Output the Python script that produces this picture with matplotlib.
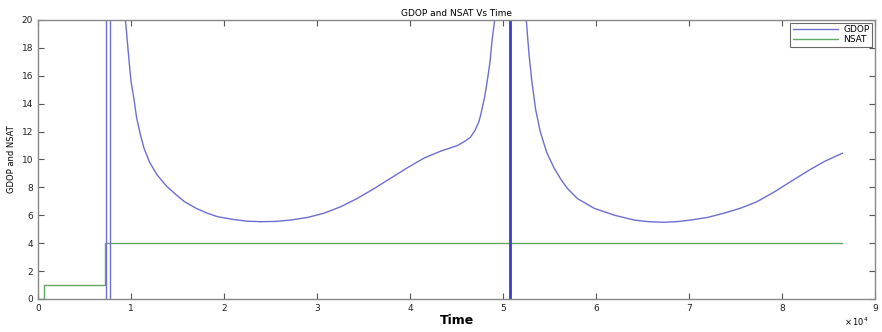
import numpy as np
import matplotlib
matplotlib.use('Agg')
import matplotlib.pyplot as plt

# GDOP curve (time in units of 1e4 s, NaN breaks the line)
gdop_time = [0.94, 0.96, 0.98, 1.00, 1.03, 1.06, 1.10, 1.14, 1.20, 1.28,
             1.38, 1.48, 1.57, 1.70, 1.82, 1.93, 2.10, 2.25, 2.39, 2.55,
             2.72, 2.90, 3.07, 3.25, 3.43, 3.61, 3.79, 3.97, 4.15, 4.33,
             4.51, 4.60, 4.65, 4.70, 4.74, 4.76, 4.80, 4.83, 4.86, 4.88,
             4.91, 4.93,
             np.nan,
             5.23, 5.25, 5.28, 5.31, 5.35, 5.40, 5.47, 5.55, 5.62, 5.69,
             5.80, 5.98, 6.20, 6.41, 6.57, 6.73, 6.88, 7.02, 7.20, 7.37,
             7.55, 7.73, 7.91, 8.09, 8.27, 8.45, 8.55, 8.65]
gdop_vals = [20.0, 18.5, 17.0, 15.6, 14.4, 13.0, 11.8, 10.8, 9.8, 8.9,
             8.1, 7.5, 7.0, 6.5, 6.15, 5.9, 5.7, 5.58, 5.54, 5.56,
             5.66, 5.85, 6.14, 6.6, 7.2, 7.9, 8.65, 9.4, 10.1, 10.6,
             11.0, 11.35, 11.6, 12.1, 12.7, 13.2, 14.4, 15.6, 17.0, 18.4,
             20.0, 22.0,
             np.nan,
             22.0, 20.0, 17.5, 15.6, 13.6, 12.0, 10.5, 9.37, 8.6, 7.94,
             7.2, 6.5, 6.0, 5.66, 5.54, 5.5, 5.55, 5.66, 5.85, 6.14,
             6.5, 6.97, 7.65, 8.4, 9.15, 9.84, 10.15, 10.45]

# times where GDOP blows up (drawn as full-height vertical lines)
spike_time = [0.726, 0.772, 5.08]
spike_width = [1.0, 1.0, 2.0]
spike_color = ['#7070d0', '#7070d0', '#3c3cc8']

# number of satellites in view (step)
nsat_time = [0, 0.068, 0.068, 0.72, 0.72, 8.65]
nsat_vals = [0, 0, 1, 1, 4, 4]

fig = plt.figure(figsize=(8.82, 3.32), dpi=100)
ax = fig.add_axes([0.0431, 0.0994, 0.9490, 0.8404])

ax.plot(gdop_time, gdop_vals, color='#6e6ed2', linewidth=1.0, label='GDOP')
ax.plot(nsat_time, nsat_vals, color='#62a862', linewidth=1.0, label='NSAT')
for t, w, c in zip(spike_time, spike_width, spike_color):
    ax.plot([t, t], [-100, 100], color=c, linewidth=w)

ax.set_xlim(0, 9)
ax.set_ylim(0, 20)
ax.set_xticks(np.arange(0, 10, 1))
ax.set_xticklabels([str(i) for i in range(10)])
ax.set_yticks(np.arange(0, 21, 2))

ax.tick_params(direction='in', length=4, width=0.8, labelsize=6.5,
               top=True, right=True, colors='#555555', labelcolor='#222222')
for s in ax.spines.values():
    s.set_color('#888888')
    s.set_linewidth(1.0)

ax.set_title('GDOP and NSAT Vs Time', fontsize=6.5, pad=3)
ax.set_xlabel('Time', fontsize=9, fontweight='bold', labelpad=1)
ax.set_ylabel('GDOP and NSAT', fontsize=6, labelpad=4)
fig.text(0.985, 0.012, r'$\times\,10^4$', fontsize=6, ha='right', va='bottom')

leg = ax.legend(loc='upper right', fontsize=6.5, frameon=True, fancybox=False,
                borderaxespad=0.3, handlelength=5, labelspacing=0.1,
                borderpad=0.3, handletextpad=0.6)
leg.get_frame().set_edgecolor('#444444')
leg.get_frame().set_linewidth(0.8)

fig.savefig('out.png', dpi=100)
plt.close(fig)
